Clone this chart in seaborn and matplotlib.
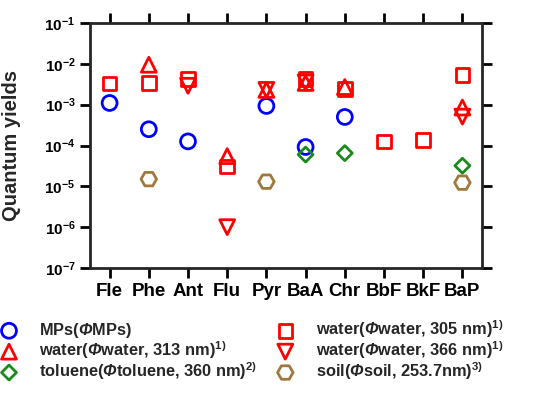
import numpy as np
import pandas as pd
import matplotlib
matplotlib.use('Agg')
import matplotlib.pyplot as plt
import seaborn as sns
from matplotlib.ticker import LogLocator, NullLocator

sns.set_style('ticks')
plt.rcParams['font.family'] = ['Liberation Sans', 'DejaVu Sans']
plt.rcParams['font.weight'] = 'bold'
plt.rcParams['mathtext.fontset'] = 'custom'
plt.rcParams['mathtext.rm'] = 'Liberation Sans:bold'
plt.rcParams['mathtext.bf'] = 'Liberation Sans:bold'
plt.rcParams['mathtext.sf'] = 'Liberation Sans:italic:bold'

# PAH categories
cats = ['Fle', 'Phe', 'Ant', 'Flu', 'Pyr', 'BaA', 'Chr', 'BbF', 'BkF', 'BaP']

# quantum yields
mps_cat = ['Fle', 'Phe', 'Ant', 'Pyr', 'BaA', 'Chr']
mps_val = [1.1e-3, 2.5e-4, 1.26e-4, 9.3e-4, 9.2e-5, 5.0e-4]

w305_cat = ['Fle', 'Phe', 'Ant', 'Flu', 'BaA', 'Chr', 'BbF', 'BkF', 'BaP']
w305_val = [3.3e-3, 3.4e-3, 4.3e-3, 3.1e-5, 4.2e-3, 2.4e-3, 1.26e-4, 1.38e-4, 5.4e-3]

w313_cat = ['Phe', 'Flu', 'Pyr', 'BaA', 'Chr', 'BaP']
w313_val = [9.5e-3, 5.5e-5, 2.3e-3, 3.4e-3, 2.7e-3, 8.5e-4]

w366_cat = ['Ant', 'Flu', 'Pyr', 'BaA', 'BaP']
w366_val = [2.9e-3, 1.0e-6, 2.3e-3, 3.5e-3, 5.1e-4]

tol_cat = ['BaA', 'Chr', 'BaP']
tol_val = [6.0e-5, 6.5e-5, 3.2e-5]

soil_cat = ['Phe', 'Pyr', 'BaP']
soil_val = [1.5e-5, 1.3e-5, 1.23e-5]

# legend order: column 1 then column 2
series = [
    ('MPs($\\mathsf{\\Phi}$MPs)', mps_cat, mps_val, 'o', '#0000FF', 115),
    ('water($\\mathsf{\\Phi}$water, 313 nm)$^{1)}$', w313_cat, w313_val, '^', '#FF0000', 115),
    ('toluene($\\mathsf{\\Phi}$toluene, 360 nm)$^{2)}$', tol_cat, tol_val, 'D', '#1A8A1A', 58),
    ('water($\\mathsf{\\Phi}$water, 305 nm)$^{1)}$', w305_cat, w305_val, 's', '#FF0000', 95),
    ('water($\\mathsf{\\Phi}$water, 366 nm)$^{1)}$', w366_cat, w366_val, 'v', '#FF0000', 115),
    ('soil($\\mathsf{\\Phi}$soil, 253.7nm)$^{3)}$', soil_cat, soil_val, 'H', '#A0783C', 125),
]

fig = plt.figure(figsize=(5.47, 4.03), dpi=100)
ax = fig.add_axes([90/547, 1-268/403, 392/547, 245/403])

for label, c, v, m, col, s in series:
    df = pd.DataFrame({'x': [cats.index(k) for k in c], 'y': v})
    sns.scatterplot(data=df, x='x', y='y', marker=m, s=s, color=col,
                    facecolor='none', edgecolor=col, linewidth=2,
                    label=label, ax=ax, legend=True)

ax.set_yscale('log')
ax.set_ylim(1e-7, 1e-1)
ax.set_xlim(-0.5, 9.5)
ax.yaxis.set_major_locator(LogLocator(base=10, numticks=10))
ax.yaxis.set_minor_locator(NullLocator())
ax.set_xticks(range(len(cats)))
ax.set_xticklabels(cats, fontsize=13.5, fontweight='bold')
for t in ax.get_yticklabels():
    t.set_fontsize(11)
    t.set_fontweight('bold')
ax.set_xlabel('')
ax.set_ylabel('Quantum yields', fontsize=14.5, fontweight='bold')
ax.yaxis.set_label_coords(-0.175, 0.5)

for sp in ax.spines.values():
    sp.set_visible(True)
    sp.set_linewidth(2)

handles, labels = ax.get_legend_handles_labels()
ax.get_legend().remove()
fig.legend(handles, labels, loc='upper left', bbox_to_anchor=(-0.0165, 0.21),
           bbox_transform=fig.transFigure, ncol=2, frameon=False,
           fontsize=11.8, handlelength=2.2, handletextpad=0.75,
           columnspacing=0.6, labelspacing=-0.05, borderpad=0, borderaxespad=0)

ax.tick_params(axis='both', which='major', top=True, right=True, bottom=True, left=True,
               labeltop=False, labelright=False, direction='out', length=7, width=2,
               colors='black')

fig.savefig('out.png', dpi=100)
